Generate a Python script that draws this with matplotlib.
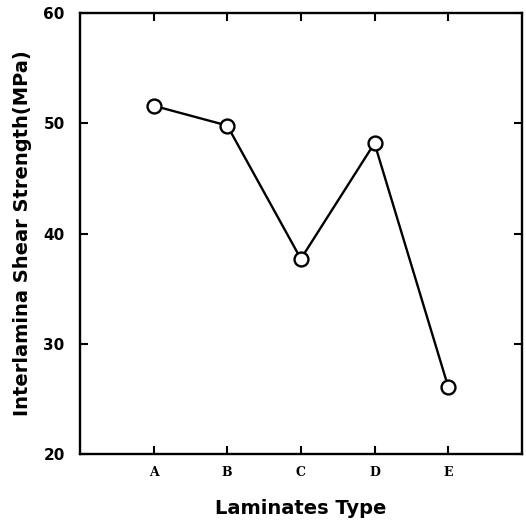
import matplotlib
matplotlib.use("Agg")
import matplotlib.pyplot as plt

categories = ["A", "B", "C", "D", "E"]
strength = [51.6, 49.8, 37.7, 48.2, 26.1]
yticks = [20, 30, 40, 50, 60]

fig = plt.figure(figsize=(5.26, 5.26), dpi=100)
ax = fig.add_axes([0.152, 0.137, 0.84, 0.838])
x = list(range(1, len(categories) + 1))
ax.plot(x, strength, color="black", lw=1.7, marker="o", markersize=10,
        markerfacecolor="white", markeredgecolor="black", markeredgewidth=1.7, zorder=3)
ax.set_xlim(0, 6)
ax.set_ylim(20, 60)
ax.set_xticks(x)
ax.set_xticklabels(categories, fontsize=9, fontweight="bold", family="DejaVu Serif")
ax.set_yticks(yticks)
ax.set_yticklabels([str(v) for v in yticks], fontsize=11, fontweight="bold")
ax.tick_params(direction="in", length=6, width=1.5, top=True, right=True)
ax.tick_params(axis="x", pad=9)
ax.tick_params(axis="y", pad=11)
for s in ax.spines.values():
    s.set_linewidth(1.7)
ax.set_xlabel("Laminates Type", fontsize=14, fontweight="bold", labelpad=14)
ax.set_ylabel("Interlamina Shear Strength(MPa)", fontsize=14, fontweight="bold", labelpad=8)
fig.savefig("out.png", dpi=100)
